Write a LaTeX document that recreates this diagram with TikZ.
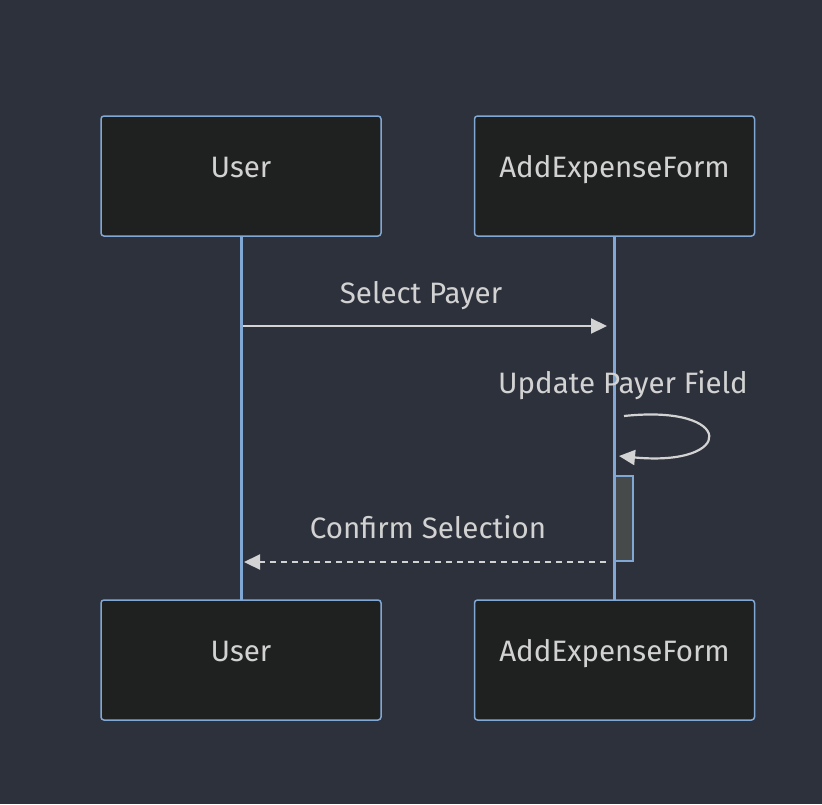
\documentclass[tikz,border=0pt]{standalone}
\usepackage{fontspec}
\setmainfont{Fira Sans}
\usetikzlibrary{arrows.meta}
\definecolor{bg}{HTML}{2D313C}
\definecolor{boxfill}{HTML}{1F2020}
\definecolor{boxline}{HTML}{81A8D4}
\definecolor{txt}{HTML}{D2D2D2}
\definecolor{arr}{HTML}{D3D3D3}
\definecolor{actfill}{HTML}{464A4A}
\tikzset{
  actor/.style={draw=boxline, fill=boxfill, line width=1.5pt, rounded corners=3pt,
    minimum width=280pt, minimum height=120pt, inner sep=0pt},
  lifeline/.style={draw=boxline, line width=3pt},
  msg/.style={draw=arr, line width=2.2pt, -{Triangle[length=16pt,width=15pt]}},
  lbl/.style={text=txt, font=\fontsize{29.5pt}{34pt}\selectfont, inner sep=0pt, anchor=base}
}
\begin{document}
\begin{tikzpicture}[x=1pt,y=-1pt]
\fill[bg] (0,0) rectangle (822,804);
\useasboundingbox (0,0) rectangle (822,804);
% lifelines
\coordinate (u1) at (241,236);
\coordinate (u2) at (241,600);
\coordinate (a1) at (614,236);
\coordinate (a2) at (614,600);
\draw[lifeline] (u1) -- (u2);
\draw[lifeline] (a1) -- (a2);
% actors
\node[actor] (userT) at (241,176) {};
\node[actor] (formT) at (614.5,176) {};
\node[actor] (userB) at (241,660) {};
\node[actor] (formB) at (614.5,660) {};
\node[lbl] (userTt) at (241,177) {User};
\node[lbl] (formTt) at (614.5,177) {AddExpenseForm};
\node[lbl] (userBt) at (241,661) {User};
\node[lbl] (formBt) at (614.5,661) {AddExpenseForm};
% activation
\node[draw=boxline, fill=actfill, line width=1.5pt, minimum width=18pt, minimum height=85pt, inner sep=0pt] (act) at (624,518.5) {};
% message 1
\coordinate (m1s) at (243,326);
\coordinate (m1e) at (607,326);
\draw[msg] (m1s) -- (m1e);
\node[lbl] (l1) at (421,303) {Select Payer};
% self message
\coordinate (s1) at (624,416);
\coordinate (s2) at (619,456);
\node[lbl] (l2) at (623,393) {Update Payer Field};
\draw[msg] (s1) .. controls (736,404) and (736,467) .. (s2);
% message 3
\coordinate (m3s) at (606,562);
\coordinate (m3e) at (244,562);
\draw[msg, dash pattern=on 6pt off 5pt] (m3s) -- (m3e);
\node[lbl] (l3) at (428,538) {Confirm Selection};
\end{tikzpicture}
\end{document}
